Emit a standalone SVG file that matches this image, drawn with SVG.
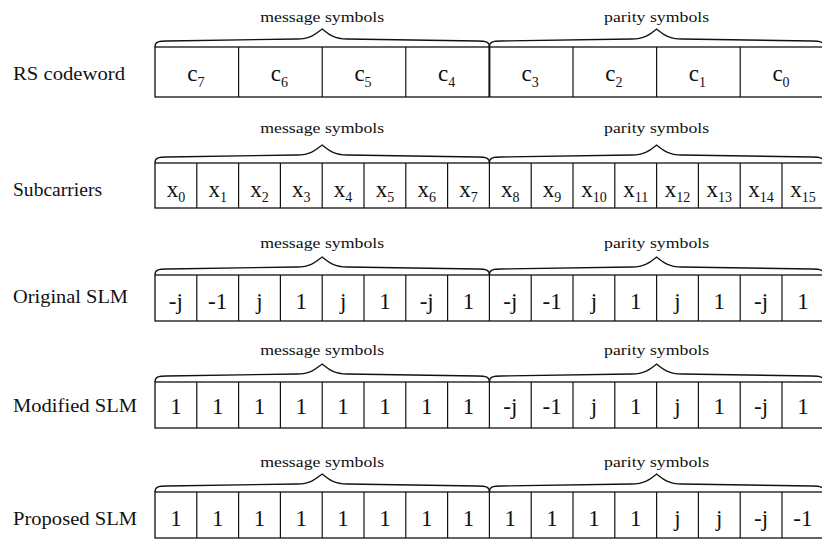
<svg xmlns="http://www.w3.org/2000/svg" xmlns:xlink="http://www.w3.org/1999/xlink" width="822" height="543" viewBox="0 0 822 543">
<style>
text{font-family:"Liberation Serif","Times New Roman",serif;fill:#111}
.lbl{font-size:18px}
.hdr{font-size:15px;text-anchor:middle}
.val{font-size:23px;text-anchor:middle}
.sub{font-size:14px}
.box{fill:#fff;stroke:#111;stroke-width:1.3}
.div{stroke:#111;stroke-width:1.2}
.br{fill:none;stroke:#111;stroke-width:1.3}
</style>
<defs>
<path id="bm" class="br" d="M155,0 C155,-5 158,-6 167,-6 L297,-8 C312,-8 318,-15 322.2,-18 C326.4,-15 332,-8 347,-8 L477.4,-6 C486.4,-6 489.4,-5 489.4,0"/>
<path id="bp" class="br" d="M489.4,0 C489.4,-5 492.4,-6 501.4,-6 L631.6,-8 C646.6,-8 652.4,-15 656.6,-18 C660.8,-15 666.6,-8 681.6,-8 L811.8,-6 C820.8,-6 823.8,-5 823.8,0"/>
</defs>

<!-- Row 1 -->
<g id="row-rs">
<text class="lbl" x="13" y="80" textLength="112" lengthAdjust="spacingAndGlyphs">RS codeword</text>
<text class="hdr" x="322.2" y="22" textLength="124" lengthAdjust="spacingAndGlyphs">message symbols</text>
<text class="hdr" x="656.6" y="22" textLength="105" lengthAdjust="spacingAndGlyphs">parity symbols</text>
<use xlink:href="#bm" href="#bm" y="47"/>
<use xlink:href="#bp" href="#bp" y="47"/>
<rect class="box" x="155" y="47" width="668.8" height="50"/>
<g class="div">
<line x1="238.6" y1="47" x2="238.6" y2="97"/><line x1="322.2" y1="47" x2="322.2" y2="97"/><line x1="405.8" y1="47" x2="405.8" y2="97"/>
<line x1="489.4" y1="47" x2="489.4" y2="97" stroke-width="2"/>
<line x1="573" y1="47" x2="573" y2="97"/><line x1="656.6" y1="47" x2="656.6" y2="97"/><line x1="740.2" y1="47" x2="740.2" y2="97"/>
</g>
<text class="val" y="81"><tspan x="195.8">c</tspan><tspan class="sub" dy="6">7</tspan></text>
<text class="val" y="81"><tspan x="279.4">c</tspan><tspan class="sub" dy="6">6</tspan></text>
<text class="val" y="81"><tspan x="363">c</tspan><tspan class="sub" dy="6">5</tspan></text>
<text class="val" y="81"><tspan x="446.6">c</tspan><tspan class="sub" dy="6">4</tspan></text>
<text class="val" y="81"><tspan x="530.2">c</tspan><tspan class="sub" dy="6">3</tspan></text>
<text class="val" y="81"><tspan x="613.8">c</tspan><tspan class="sub" dy="6">2</tspan></text>
<text class="val" y="81"><tspan x="697.4">c</tspan><tspan class="sub" dy="6">1</tspan></text>
<text class="val" y="81"><tspan x="781">c</tspan><tspan class="sub" dy="6">0</tspan></text>
</g>

<!-- Row 2 -->
<g id="row-sub">
<text class="lbl" x="13" y="196" textLength="89" lengthAdjust="spacingAndGlyphs">Subcarriers</text>
<text class="hdr" x="322.2" y="133" textLength="124" lengthAdjust="spacingAndGlyphs">message symbols</text>
<text class="hdr" x="656.6" y="133" textLength="105" lengthAdjust="spacingAndGlyphs">parity symbols</text>
<use xlink:href="#bm" href="#bm" y="163"/>
<use xlink:href="#bp" href="#bp" y="163"/>
<rect class="box" x="155" y="163" width="668.8" height="45"/>
<g class="div">
<line x1="196.8" y1="163" x2="196.8" y2="208"/><line x1="238.6" y1="163" x2="238.6" y2="208"/><line x1="280.4" y1="163" x2="280.4" y2="208"/><line x1="322.2" y1="163" x2="322.2" y2="208"/><line x1="364" y1="163" x2="364" y2="208"/><line x1="405.8" y1="163" x2="405.8" y2="208"/><line x1="447.6" y1="163" x2="447.6" y2="208"/><line x1="489.4" y1="163" x2="489.4" y2="208"/><line x1="531.2" y1="163" x2="531.2" y2="208"/><line x1="573" y1="163" x2="573" y2="208"/><line x1="614.8" y1="163" x2="614.8" y2="208"/><line x1="656.6" y1="163" x2="656.6" y2="208"/><line x1="698.4" y1="163" x2="698.4" y2="208"/><line x1="740.2" y1="163" x2="740.2" y2="208"/><line x1="782" y1="163" x2="782" y2="208"/>
</g>
<text class="val" y="197" x="175.9">x<tspan class="sub" dy="5">0</tspan></text>
<text class="val" y="197" x="217.7">x<tspan class="sub" dy="5">1</tspan></text>
<text class="val" y="197" x="259.5">x<tspan class="sub" dy="5">2</tspan></text>
<text class="val" y="197" x="301.3">x<tspan class="sub" dy="5">3</tspan></text>
<text class="val" y="197" x="343.1">x<tspan class="sub" dy="5">4</tspan></text>
<text class="val" y="197" x="384.9">x<tspan class="sub" dy="5">5</tspan></text>
<text class="val" y="197" x="426.7">x<tspan class="sub" dy="5">6</tspan></text>
<text class="val" y="197" x="468.5">x<tspan class="sub" dy="5">7</tspan></text>
<text class="val" y="197" x="510.3">x<tspan class="sub" dy="5">8</tspan></text>
<text class="val" y="197" x="552.1">x<tspan class="sub" dy="5">9</tspan></text>
<text class="val" y="197" x="593.9">x<tspan class="sub" dy="5">10</tspan></text>
<text class="val" y="197" x="635.7">x<tspan class="sub" dy="5">11</tspan></text>
<text class="val" y="197" x="677.5">x<tspan class="sub" dy="5">12</tspan></text>
<text class="val" y="197" x="719.3">x<tspan class="sub" dy="5">13</tspan></text>
<text class="val" y="197" x="761.1">x<tspan class="sub" dy="5">14</tspan></text>
<text class="val" y="197" x="802.9">x<tspan class="sub" dy="5">15</tspan></text>
</g>

<!-- Row 3 -->
<g id="row-orig">
<text class="lbl" x="13" y="303" textLength="115" lengthAdjust="spacingAndGlyphs">Original SLM</text>
<text class="hdr" x="322.2" y="248" textLength="124" lengthAdjust="spacingAndGlyphs">message symbols</text>
<text class="hdr" x="656.6" y="248" textLength="105" lengthAdjust="spacingAndGlyphs">parity symbols</text>
<use xlink:href="#bm" href="#bm" y="275"/>
<use xlink:href="#bp" href="#bp" y="275"/>
<rect class="box" x="155" y="275" width="668.8" height="46"/>
<g class="div">
<line x1="196.8" y1="275" x2="196.8" y2="321"/><line x1="238.6" y1="275" x2="238.6" y2="321"/><line x1="280.4" y1="275" x2="280.4" y2="321"/><line x1="322.2" y1="275" x2="322.2" y2="321"/><line x1="364" y1="275" x2="364" y2="321"/><line x1="405.8" y1="275" x2="405.8" y2="321"/><line x1="447.6" y1="275" x2="447.6" y2="321"/><line x1="489.4" y1="275" x2="489.4" y2="321"/><line x1="531.2" y1="275" x2="531.2" y2="321"/><line x1="573" y1="275" x2="573" y2="321"/><line x1="614.8" y1="275" x2="614.8" y2="321"/><line x1="656.6" y1="275" x2="656.6" y2="321"/><line x1="698.4" y1="275" x2="698.4" y2="321"/><line x1="740.2" y1="275" x2="740.2" y2="321"/><line x1="782" y1="275" x2="782" y2="321"/>
</g>
<g>
<text class="val" y="309" x="175.9">-j</text><text class="val" y="309" x="217.7">-1</text><text class="val" y="309" x="259.5">j</text><text class="val" y="309" x="301.3">1</text>
<text class="val" y="309" x="343.1">j</text><text class="val" y="309" x="384.9">1</text><text class="val" y="309" x="426.7">-j</text><text class="val" y="309" x="468.5">1</text>
<text class="val" y="309" x="510.3">-j</text><text class="val" y="309" x="552.1">-1</text><text class="val" y="309" x="593.9">j</text><text class="val" y="309" x="635.7">1</text>
<text class="val" y="309" x="677.5">j</text><text class="val" y="309" x="719.3">1</text><text class="val" y="309" x="761.1">-j</text><text class="val" y="309" x="802.9">1</text>
</g>
</g>

<!-- Row 4 -->
<g id="row-mod">
<text class="lbl" x="13" y="412" textLength="124" lengthAdjust="spacingAndGlyphs">Modified SLM</text>
<text class="hdr" x="322.2" y="355" textLength="124" lengthAdjust="spacingAndGlyphs">message symbols</text>
<text class="hdr" x="656.6" y="355" textLength="105" lengthAdjust="spacingAndGlyphs">parity symbols</text>
<use xlink:href="#bm" href="#bm" y="382"/>
<use xlink:href="#bp" href="#bp" y="382"/>
<rect class="box" x="155" y="382" width="668.8" height="46"/>
<g class="div">
<line x1="196.8" y1="382" x2="196.8" y2="428"/><line x1="238.6" y1="382" x2="238.6" y2="428"/><line x1="280.4" y1="382" x2="280.4" y2="428"/><line x1="322.2" y1="382" x2="322.2" y2="428"/><line x1="364" y1="382" x2="364" y2="428"/><line x1="405.8" y1="382" x2="405.8" y2="428"/><line x1="447.6" y1="382" x2="447.6" y2="428"/><line x1="489.4" y1="382" x2="489.4" y2="428"/><line x1="531.2" y1="382" x2="531.2" y2="428"/><line x1="573" y1="382" x2="573" y2="428"/><line x1="614.8" y1="382" x2="614.8" y2="428"/><line x1="656.6" y1="382" x2="656.6" y2="428"/><line x1="698.4" y1="382" x2="698.4" y2="428"/><line x1="740.2" y1="382" x2="740.2" y2="428"/><line x1="782" y1="382" x2="782" y2="428"/>
</g>
<g>
<text class="val" y="414" x="175.9">1</text><text class="val" y="414" x="217.7">1</text><text class="val" y="414" x="259.5">1</text><text class="val" y="414" x="301.3">1</text>
<text class="val" y="414" x="343.1">1</text><text class="val" y="414" x="384.9">1</text><text class="val" y="414" x="426.7">1</text><text class="val" y="414" x="468.5">1</text>
<text class="val" y="414" x="510.3">-j</text><text class="val" y="414" x="552.1">-1</text><text class="val" y="414" x="593.9">j</text><text class="val" y="414" x="635.7">1</text>
<text class="val" y="414" x="677.5">j</text><text class="val" y="414" x="719.3">1</text><text class="val" y="414" x="761.1">-j</text><text class="val" y="414" x="802.9">1</text>
</g>
</g>

<!-- Row 5 -->
<g id="row-prop">
<text class="lbl" x="13" y="525" textLength="124" lengthAdjust="spacingAndGlyphs">Proposed SLM</text>
<text class="hdr" x="322.2" y="467" textLength="124" lengthAdjust="spacingAndGlyphs">message symbols</text>
<text class="hdr" x="656.6" y="467" textLength="105" lengthAdjust="spacingAndGlyphs">parity symbols</text>
<use xlink:href="#bm" href="#bm" y="492"/>
<use xlink:href="#bp" href="#bp" y="492"/>
<rect class="box" x="155" y="492" width="668.8" height="46"/>
<g class="div">
<line x1="196.8" y1="492" x2="196.8" y2="538"/><line x1="238.6" y1="492" x2="238.6" y2="538"/><line x1="280.4" y1="492" x2="280.4" y2="538"/><line x1="322.2" y1="492" x2="322.2" y2="538"/><line x1="364" y1="492" x2="364" y2="538"/><line x1="405.8" y1="492" x2="405.8" y2="538"/><line x1="447.6" y1="492" x2="447.6" y2="538"/><line x1="489.4" y1="492" x2="489.4" y2="538"/><line x1="531.2" y1="492" x2="531.2" y2="538"/><line x1="573" y1="492" x2="573" y2="538"/><line x1="614.8" y1="492" x2="614.8" y2="538"/><line x1="656.6" y1="492" x2="656.6" y2="538"/><line x1="698.4" y1="492" x2="698.4" y2="538"/><line x1="740.2" y1="492" x2="740.2" y2="538"/><line x1="782" y1="492" x2="782" y2="538"/>
</g>
<g>
<text class="val" y="526" x="175.9">1</text><text class="val" y="526" x="217.7">1</text><text class="val" y="526" x="259.5">1</text><text class="val" y="526" x="301.3">1</text>
<text class="val" y="526" x="343.1">1</text><text class="val" y="526" x="384.9">1</text><text class="val" y="526" x="426.7">1</text><text class="val" y="526" x="468.5">1</text>
<text class="val" y="526" x="510.3">1</text><text class="val" y="526" x="552.1">1</text><text class="val" y="526" x="593.9">1</text><text class="val" y="526" x="635.7">1</text>
<text class="val" y="526" x="677.5">j</text><text class="val" y="526" x="719.3">j</text><text class="val" y="526" x="761.1">-j</text><text class="val" y="526" x="802.9">-1</text>
</g>
</g>
</svg>
